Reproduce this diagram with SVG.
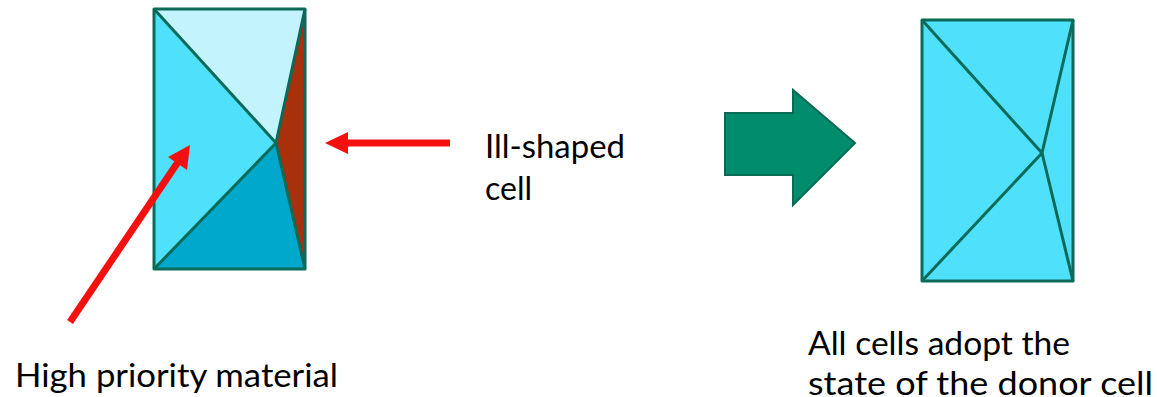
<svg xmlns="http://www.w3.org/2000/svg" width="1157" height="397" viewBox="0 0 1157 397">
<defs>
<style>
.edge{stroke:#0b6b58;stroke-width:3;stroke-linejoin:round;fill:none}
.lbl{font-family:Lato,"Open Sans","Liberation Sans",sans-serif;font-size:33px;fill:#000}
.red{stroke:#f51010;stroke-width:7;fill:none}
.redhead{fill:#f51010}
</style>
</defs>
<rect width="1157" height="397" fill="#ffffff"/>
<g id="mesh-before">
<polygon points="154,9 305,9 276,143" fill="#c3f3fc"/>
<polygon points="154,9 276,143 154,269" fill="#4fe0fb"/>
<polygon points="154,269 276,143 305,269" fill="#00a8cc"/>
<polygon points="305,9 276,143 305,269" fill="#a8300a"/>
<polyline class="edge" points="154,9 276,143 154,269"/>
<polyline class="edge" points="305,9 276,143 305,269"/>
<rect class="edge" x="154" y="9" width="151" height="260"/>
</g>
<g id="mesh-after">
<rect x="922" y="20" width="151" height="261" fill="#4fe0fb"/>
<polyline class="edge" points="922,20 1042,153 922,281"/>
<polyline class="edge" points="1073,20 1042,153 1073,281"/>
<rect class="edge" x="922" y="20" width="151" height="261"/>
</g>
<g id="big-arrow">
<polygon points="725,113 793,113 793,90 855,143 793,205 793,175 725,175" fill="#018c6e" stroke="#0a6b55" stroke-width="2" stroke-linejoin="miter"/>
</g>
<g id="connectors">
<line class="red" x1="70" y1="322" x2="178" y2="162"/>
<polygon class="redhead" points="190,145 187,170 168,157"/>
<line class="red" x1="450" y1="143" x2="345" y2="143"/>
<polygon class="redhead" points="325,143 348,132 348,154"/>
</g>
<g id="label-ill">
<text class="lbl" x="485" y="158" textLength="140" lengthAdjust="spacingAndGlyphs">Ill-shaped</text>
<text class="lbl" x="485" y="200" textLength="47" lengthAdjust="spacingAndGlyphs">cell</text>
</g>
<g id="label-high">
<text class="lbl" x="15" y="387" textLength="323" lengthAdjust="spacingAndGlyphs">High priority material</text>
</g>
<g id="label-all">
<text class="lbl" x="808" y="355" textLength="262" lengthAdjust="spacingAndGlyphs">All cells adopt the</text>
<text class="lbl" x="808" y="395" textLength="345" lengthAdjust="spacingAndGlyphs">state of the donor cell</text>
</g>
</svg>
